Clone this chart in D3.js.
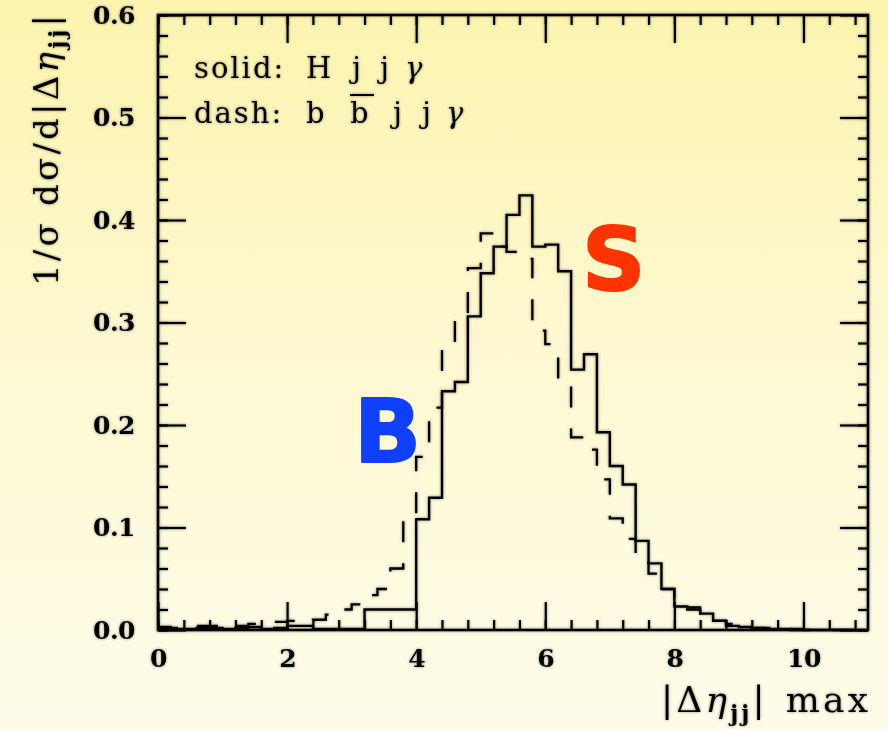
<!DOCTYPE html>
<html>
<head>
<meta charset="utf-8">
<script src="https://cdn.jsdelivr.net/npm/d3@7"></script>
<style>
  html, body { margin: 0; padding: 0; background: #fdfbe6; }
  svg { display: block; }
</style>
</head>
<body>
<svg id="chart" width="888" height="729"></svg>
<script>
// Lower edges of the 0.2-wide |Δη_jj| bins
const binStart = [
  0.0, 0.2, 0.4, 0.6, 0.8, 1.0, 1.2, 1.4, 1.6, 1.8,
  2.0, 2.2, 2.4, 2.6, 2.8, 3.0, 3.2, 3.4, 3.6, 3.8,
  4.0, 4.2, 4.4, 4.6, 4.8, 5.0, 5.2, 5.4, 5.6, 5.8,
  6.0, 6.2, 6.4, 6.6, 6.8, 7.0, 7.2, 7.4, 7.6, 7.8,
  8.0, 8.2, 8.4, 8.6, 8.8, 9.0, 9.2, 9.4, 9.6, 9.8,
  10.0, 10.2, 10.4, 10.6, 10.8
];
const binWidth = 0.2;

// Signal: H j j γ (solid)
const signalHjjA = [
  0.002, 0.001, 0.001, 0.002, 0.002, 0.001, 0.002, 0.003, 0.001, 0.002,
  0.004, 0.004, 0.001, 0.001, 0.001, 0.001, 0.020, 0.020, 0.020, 0.020,
  0.108, 0.129, 0.233, 0.242, 0.306, 0.348, 0.374, 0.405, 0.424, 0.374,
  0.376, 0.350, 0.254, 0.269, 0.193, 0.160, 0.142, 0.087, 0.065, 0.040,
  0.023, 0.020, 0.016, 0.009, 0.004, 0.003, 0.002, 0.001, 0.001, 0.000,
  0.000, 0.000, 0.000, 0.000, 0.000
];

// Background: b b̄ j j γ (dashed)
const backgroundBBjjA = [
  0.003, 0.002, 0.003, 0.004, 0.004, 0.003, 0.004, 0.006, 0.006, 0.008,
  0.009, 0.008, 0.010, 0.015, 0.020, 0.025, 0.034, 0.040, 0.060, 0.110,
  0.169, 0.217, 0.280, 0.309, 0.353, 0.387, 0.374, 0.369, 0.362, 0.292,
  0.279, 0.242, 0.188, 0.176, 0.147, 0.109, 0.089, 0.074, 0.055, 0.040,
  0.032, 0.022, 0.012, 0.009, 0.006, 0.006, 0.002, 0.002, 0.001, 0.001,
  0.000, 0.000, 0.000, 0.000, 0.000
];

const xTickLabels = [0, 2, 4, 6, 8, 10];
const yTickLabels = [0.0, 0.1, 0.2, 0.3, 0.4, 0.5, 0.6];

const W = 888, H = 729;
const plot = { left: 158, right: 868, top: 15, bottom: 630 };

const x = d3.scaleLinear().domain([0, 11]).range([plot.left, plot.right]);
const y = d3.scaleLinear().domain([0, 0.6]).range([plot.bottom, plot.top]);

const svg = d3.select("#chart");
const defs = svg.append("defs");

const grad = defs.append("linearGradient")
  .attr("id", "bg").attr("x1", 0).attr("y1", 0).attr("x2", 0).attr("y2", 1);
grad.append("stop").attr("offset", "0%").attr("stop-color", "#fcf4ae");
grad.append("stop").attr("offset", "45%").attr("stop-color", "#fdf8cf");
grad.append("stop").attr("offset", "100%").attr("stop-color", "#fefce9");

// soft dark halo round the ink
const f = defs.append("filter").attr("id", "halo")
  .attr("x", "-10%").attr("y", "-10%").attr("width", "120%").attr("height", "120%");
f.append("feGaussianBlur").attr("in", "SourceAlpha").attr("stdDeviation", 1.6).attr("result", "blur");
f.append("feComponentTransfer").attr("in", "blur").attr("result", "shade")
  .append("feFuncA").attr("type", "linear").attr("slope", 0.45);
const fm = f.append("feMerge");
fm.append("feMergeNode").attr("in", "shade");
fm.append("feMergeNode").attr("in", "SourceGraphic");

svg.append("rect").attr("width", W).attr("height", H).attr("fill", "url(#bg)");

const ink = svg.append("g").attr("filter", "url(#halo)");

// histograms as step lines
function stepPoints(values) {
  const pts = binStart.map((s, i) => [s, values[i]]);
  pts.push([binStart[binStart.length - 1] + binWidth, values[values.length - 1]]);
  return pts;
}
const step = d3.line().x(d => x(d[0])).y(d => y(d[1])).curve(d3.curveStepAfter);

ink.append("path")
  .attr("d", step(stepPoints(backgroundBBjjA)))
  .attr("fill", "none").attr("stroke", "#000").attr("stroke-width", 2.3)
  .attr("stroke-dasharray", "21,21").attr("stroke-linejoin", "miter");

ink.append("path")
  .attr("d", step(stepPoints(signalHjjA)))
  .attr("fill", "none").attr("stroke", "#000").attr("stroke-width", 2.4)
  .attr("stroke-linejoin", "miter");

// axes with inward ticks on all four sides
const xMinor = d3.range(0, 11, 0.4);
const yMinor = d3.range(0, 0.6001, 0.02);

function styleAxis(g) {
  g.select(".domain").remove();
  g.selectAll(".tick line").attr("stroke", "#000").attr("stroke-width", 2.2);
}

// minor ticks
ink.append("g").attr("transform", `translate(0,${plot.bottom})`)
  .call(d3.axisBottom(x).tickValues(xMinor).tickSize(-10).tickFormat(""))
  .call(styleAxis);
ink.append("g").attr("transform", `translate(0,${plot.top})`)
  .call(d3.axisTop(x).tickValues(xMinor).tickSize(-10).tickFormat(""))
  .call(styleAxis);
ink.append("g").attr("transform", `translate(${plot.left},0)`)
  .call(d3.axisLeft(y).tickValues(yMinor).tickSize(-10).tickFormat(""))
  .call(styleAxis);
ink.append("g").attr("transform", `translate(${plot.right},0)`)
  .call(d3.axisRight(y).tickValues(yMinor).tickSize(-10).tickFormat(""))
  .call(styleAxis);

// major ticks with labels
const xAxis = ink.append("g").attr("transform", `translate(0,${plot.bottom})`)
  .call(d3.axisBottom(x).tickValues(xTickLabels).tickSize(-28).tickPadding(19).tickFormat(d3.format("d")))
  .call(styleAxis);
ink.append("g").attr("transform", `translate(0,${plot.top})`)
  .call(d3.axisTop(x).tickValues(xTickLabels).tickSize(-28).tickFormat(""))
  .call(styleAxis);
const yAxis = ink.append("g").attr("transform", `translate(${plot.left},0)`)
  .call(d3.axisLeft(y).tickValues(yTickLabels).tickSize(-28).tickPadding(23).tickFormat(d3.format(".1f")))
  .call(styleAxis);
ink.append("g").attr("transform", `translate(${plot.right},0)`)
  .call(d3.axisRight(y).tickValues(yTickLabels).tickSize(-28).tickFormat(""))
  .call(styleAxis);

[xAxis, yAxis].forEach(a => a.selectAll("text")
  .attr("fill", "#000").attr("font-family", "'DejaVu Serif', serif").attr("font-size", 25)
  .attr("font-weight", "bold").attr("letter-spacing", -0.5));

// frame
ink.append("rect")
  .attr("x", plot.left).attr("y", plot.top)
  .attr("width", plot.right - plot.left).attr("height", plot.bottom - plot.top)
  .attr("fill", "none").attr("stroke", "#000").attr("stroke-width", 2.6);

// axis titles
const serif = "'DejaVu Serif', serif";
const yTitle = ink.append("text")
  .attr("transform", `translate(58,286) rotate(-90)`)
  .attr("font-family", serif).attr("font-size", 34).attr("fill", "#000")
  .attr("textLength", 271).attr("lengthAdjust", "spacing");
yTitle.append("tspan").text("1/σ dσ/d|Δ");
yTitle.append("tspan").attr("font-style", "italic").text("η");
yTitle.append("tspan").attr("font-size", 22).attr("font-weight", "bold").attr("dy", 7).text("jj");
yTitle.append("tspan").attr("dy", -7).text("|");

const xTitle = ink.append("text")
  .attr("x", 661).attr("y", 712)
  .attr("font-family", serif).attr("font-size", 36).attr("fill", "#000")
  .attr("textLength", 207).attr("lengthAdjust", "spacing");
xTitle.append("tspan").text("|Δ");
xTitle.append("tspan").attr("font-style", "italic").text("η");
xTitle.append("tspan").attr("font-size", 22).attr("font-weight", "bold").attr("dy", 9).text("jj");
xTitle.append("tspan").attr("dy", -9).text("|");
xTitle.append("tspan").attr("dx", 18).text("max");

// legend
const legendRows = [
  { y: 78, tokens: [["solid:", 194], ["H", 306], ["j", 352], ["j", 380], ["γ", 405, true]] },
  { y: 123, tokens: [["dash:", 194], ["b", 306], ["b", 350], ["j", 393], ["j", 422], ["γ", 446, true]] }
];
legendRows.forEach(row => {
  row.tokens.forEach(([t, tx, it]) => {
    const el = ink.append("text").attr("x", tx).attr("y", row.y)
      .attr("font-family", serif).attr("font-size", 29).attr("fill", "#000")
      .text(t);
    if (it) el.attr("font-style", "italic");
    if (t.endsWith(":")) el.attr("letter-spacing", 2);
  });
});
// bar over the antiquark b
ink.append("line").attr("x1", 350).attr("x2", 374).attr("y1", 95).attr("y2", 95)
  .attr("stroke", "#000").attr("stroke-width", 2);

// S / B tags
svg.append("text").attr("x", 582).attr("y", 290)
  .attr("font-family", "'DejaVu Sans', sans-serif").attr("font-weight", "bold")
  .attr("font-size", 88).attr("fill", "#ff3300")
  .attr("stroke", "#ff3300").attr("stroke-width", 2).attr("stroke-linejoin", "round")
  .text("S");
svg.append("text").attr("x", 354).attr("y", 462)
  .attr("font-family", "'DejaVu Sans', sans-serif").attr("font-weight", "bold")
  .attr("font-size", 88).attr("fill", "#1040ff")
  .attr("stroke", "#1040ff").attr("stroke-width", 2).attr("stroke-linejoin", "round")
  .text("B");
</script>
</body>
</html>
